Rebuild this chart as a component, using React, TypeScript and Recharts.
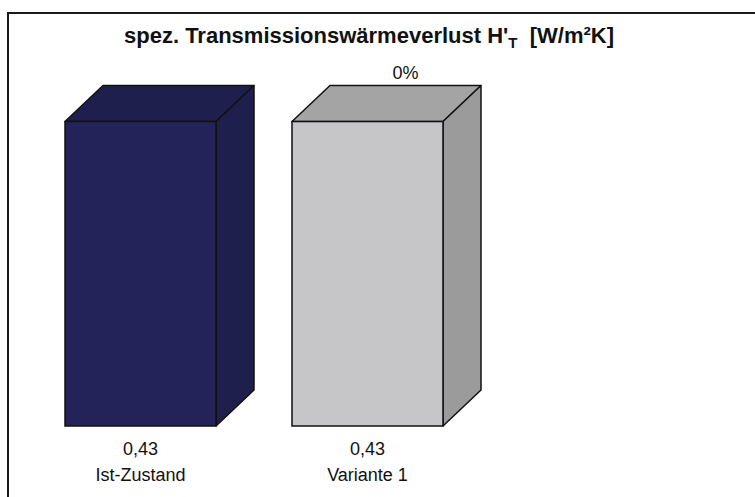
import React from 'react'
import { BarChart, Bar, XAxis, YAxis, LabelList } from 'recharts'

const categories = ['Ist-Zustand', 'Variante 1']
const values = [0.43, 0.43]
const changes = ['', '0%']

// front / top / side colours per bar
const FRONT = ['#23235a', '#c6c6c9']
const TOP = ['#1f1f4e', '#a4a4a4']
const SIDE = ['#1f1f4e', '#9b9b9b']

const DX = 38
const DY = 36
const FONT = '"Liberation Sans", Arial, sans-serif'

const data = categories.map((name, i) => ({ name, value: values[i], change: changes[i] }))

const fmt = (v: number) => v.toFixed(2).replace('.', ',')

function Box3D(props: any) {
  const { x, y, width, height, index } = props
  const stroke = '#111'
  return (
    <g>
      <polygon
        points={`${x},${y} ${x + DX},${y - DY} ${x + width + DX},${y - DY} ${x + width},${y}`}
        fill={TOP[index]}
        stroke={stroke}
        strokeWidth={1.5}
        strokeLinejoin="round"
      />
      <polygon
        points={`${x + width},${y} ${x + width + DX},${y - DY} ${x + width + DX},${y + height - DY} ${x + width},${y + height}`}
        fill={SIDE[index]}
        stroke={stroke}
        strokeWidth={1.5}
        strokeLinejoin="round"
      />
      <rect x={x} y={y} width={width} height={height} fill={FRONT[index]} stroke={stroke} strokeWidth={1.5} />
    </g>
  )
}

function CategoryTick(props: any) {
  const { x, y, payload } = props
  const i = payload.index
  return (
    <g fontFamily={FONT} fontSize={18} fill="#111" textAnchor="middle">
      <text x={x} y={y + 21} fill="#111">{fmt(values[i])}</text>
      <text x={x} y={y + 47} fill="#111">{payload.value}</text>
    </g>
  )
}

function ChangeLabel(props: any) {
  const { x, y, width, value } = props
  if (!value) return null
  return (
    <text x={x + width / 2 + DX} y={y - DY - 7} textAnchor="middle" fontFamily={FONT} fontSize={18} fill="#111">
      {value}
    </text>
  )
}

export default function App() {
  return (
    <div style={{ position: 'absolute', left: 0, top: 0, width: 755, height: 497, background: '#fff', overflow: 'hidden' }}>
      <div
        style={{
          position: 'absolute',
          left: 7,
          top: 12,
          width: 800,
          height: 600,
          borderTop: '2px solid #1a1a1a',
          borderLeft: '2px solid #1a1a1a',
        }}
      />
      <div
        style={{
          position: 'absolute',
          left: 0,
          top: 23,
          width: 738,
          textAlign: 'center',
          fontFamily: FONT,
          fontWeight: 'bold',
          fontSize: 22,
          color: '#111',
          whiteSpace: 'nowrap',
        }}
      >
        spez. Transmissionswärmeverlust H'<sub style={{ fontSize: 15 }}>T</sub>&nbsp; [W/m²K]
      </div>
      <div style={{ position: 'absolute', left: 0, top: 0 }}>
        <BarChart width={755} height={497} data={data} margin={{ top: 72, right: 274, bottom: 41, left: 27 }}>
          <XAxis dataKey="name" height={30} axisLine={false} tickLine={false} tick={<CategoryTick />} interval={0} />
          <YAxis hide domain={[0, 0.5]} />
          <Bar dataKey="value" barSize={151} isAnimationActive={false} shape={(p: any) => <Box3D {...p} />}>
            <LabelList dataKey="change" content={<ChangeLabel />} />
          </Bar>
        </BarChart>
      </div>
    </div>
  )
}
